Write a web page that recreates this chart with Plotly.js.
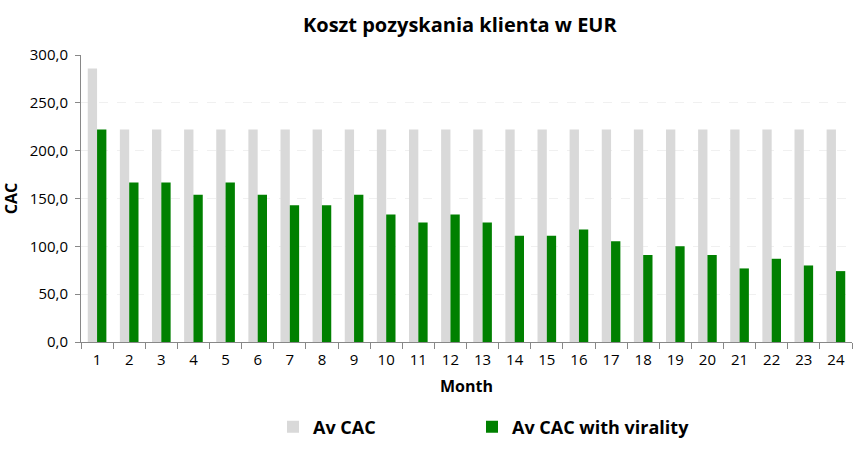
<!DOCTYPE html>
<html>
<head>
<meta charset="utf-8">
<script src="https://cdn.plot.ly/plotly-3.0.1.min.js"></script>
<style>html,body{margin:0;padding:0;background:#fff;}#chart{width:866px;height:451px;}</style>
</head>
<body>
<div id="chart"></div>
<script>
const months = ["1","2","3","4","5","6","7","8","9","10","11","12","13","14","15","16","17","18","19","20","21","22","23","24"];
const avCAC = [286, 222.2, 222.2, 222.2, 222.2, 222.2, 222.2, 222.2, 222.2, 222.2, 222.2, 222.2, 222.2, 222.2, 222.2, 222.2, 222.2, 222.2, 222.2, 222.2, 222.2, 222.2, 222.2, 222.2];
const avCACViral = [222.2, 166.7, 166.7, 153.8, 166.7, 153.8, 142.9, 142.9, 153.8, 133.3, 125.0, 133.3, 125.0, 111.1, 111.1, 117.6, 105.3, 90.9, 100.0, 90.9, 76.9, 87.0, 80.0, 74.1];
const seriesNames = ["Av CAC", "Av CAC with virality"];
const titleText = "Koszt pozyskania klienta w EUR";

const font = "Open Sans, DejaVu Sans, sans-serif";
const data = [
  {type: "bar", x: months, y: avCAC, name: "<b>" + seriesNames[0] + "</b>", marker: {color: "#d9d9d9"}, legend: "legend"},
  {type: "bar", x: months, y: avCACViral, name: "<b>" + seriesNames[1] + "</b>", marker: {color: "#008000"}, legend: "legend2"}
];
const legendBase = {
  orientation: "h", xref: "container", yref: "container", xanchor: "left", y: 0.053, yanchor: "middle",
  font: {size: 18, family: font}, itemwidth: 30, bgcolor: "rgba(0,0,0,0)"
};
const layout = {
  width: 866, height: 451,
  margin: {l: 81, r: 14, t: 55, b: 109},
  paper_bgcolor: "#fff", plot_bgcolor: "#fff",
  barmode: "group", bargap: 0.42, bargroupgap: 0,
  separators: ", ",
  font: {family: font, color: "#000", size: 15},
  title: {text: "<b>" + titleText + "</b>", x: 0.531, xanchor: "center", y: 0.945, yanchor: "middle", font: {size: 20, family: font, color: "#000"}},
  xaxis: {
    type: "category", automargin: false,
    title: {text: "<b>Month</b>", font: {size: 16}, standoff: 12},
    showline: true, linecolor: "#888", linewidth: 1,
    ticks: "outside", tickson: "boundaries", ticklen: 6, tickcolor: "#888",
    ticklabelstandoff: 4,
    tickfont: {size: 15}, showgrid: false, fixedrange: true
  },
  yaxis: {
    automargin: false,
    title: {text: "<b>CAC</b>", font: {size: 16}, standoff: 12},
    range: [0, 300], dtick: 50, tickformat: ".1f",
    showline: true, linecolor: "#888", linewidth: 1,
    ticks: "outside", ticklen: 5, tickcolor: "#888",
    ticklabelstandoff: 4,
    showgrid: true, gridcolor: "#f0f0f0", griddash: "dash",
    tickfont: {size: 15}, zeroline: false, fixedrange: true
  },
  legend: Object.assign({}, legendBase, {x: 273 / 866}),
  legend2: Object.assign({}, legendBase, {x: 472 / 866}),
  showlegend: true
};
Plotly.newPlot("chart", data, layout, {displayModeBar: false, staticPlot: true});
</script>
</body>
</html>
